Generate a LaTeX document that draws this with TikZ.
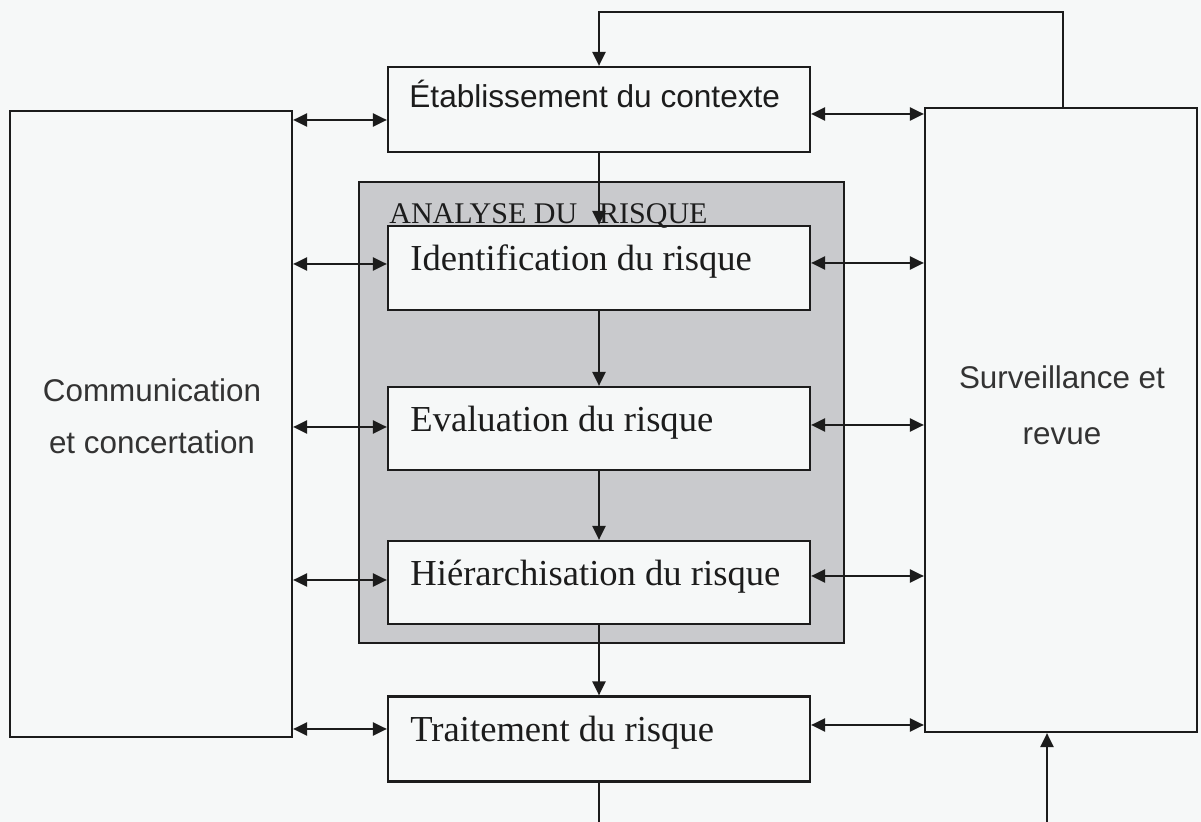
\documentclass[tikz,border=0pt]{standalone}
\usepackage{fontspec}
\setmainfont{Liberation Serif}
\newfontfamily\arialf{Liberation Sans}
\usetikzlibrary{arrows.meta,calc}
\definecolor{bgc}{RGB}{246,248,248}
\definecolor{greyfill}{RGB}{201,202,205}
\definecolor{ink}{RGB}{28,28,28}
\begin{document}
\begin{tikzpicture}[x=0.5pt,y=-0.5pt,
  box/.style={draw=ink,line width=1.1pt,fill=bgc,inner sep=0pt},
  arr/.style={draw=ink,line width=1.1pt,-{Triangle[length=7pt,width=6.5pt]}},
  darr/.style={draw=ink,line width=1.1pt,{Triangle[length=7pt,width=6.5pt]}-{Triangle[length=7pt,width=6.5pt]}},
  sertxt/.style={font=\fontsize{18.3}{22}\selectfont,anchor=base west,inner sep=0pt,text=ink},
  sanstxt/.style={font=\arialf\fontsize{15.8}{19}\selectfont,anchor=base west,inner sep=0pt,text=ink},
  sidetxt/.style={font=\arialf\fontsize{15.7}{19}\selectfont,anchor=base,inner sep=0pt,text=ink!90}
]
\useasboundingbox (0,0) rectangle (1201,822);
\fill[bgc] (0,0) rectangle (1201,822);

% side boxes
\node[box,minimum width=141pt,minimum height=313pt] (comm) at (151,424) {};
\node[box,minimum width=136pt,minimum height=312pt] (surv) at (1061,420) {};

% grey analysis box
\node[draw=ink,line width=1.1pt,fill=greyfill,inner sep=0pt,minimum width=242.5pt,minimum height=230.5pt] (analyse) at (601.5,412.5) {};

% process boxes
\node[box,minimum width=211pt,minimum height=42.5pt] (etab) at (599,109.5) {};
\node[box,minimum width=211pt,minimum height=42pt] (ident) at (599,268) {};
\node[box,minimum width=211pt,minimum height=41.5pt] (eval) at (599,428.5) {};
\node[box,minimum width=211pt,minimum height=41.5pt] (hier) at (599,582.5) {};
\node[box,minimum width=211pt,minimum height=42.5pt] (trait) at (599,739) {};

% texts
\node[sanstxt] (tetab) at (409,108) {Établissement du contexte};
\node[font=\fontsize{15}{18}\selectfont,anchor=base west,inner sep=0pt,text=ink] (tana) at (389,224) {ANALYSE DU\hskip 11pt RISQUE};
\node[sertxt] (tident) at (410,271) {Identification du risque};
\node[sertxt] (teval) at (410,432) {Evaluation du risque};
\node[sertxt] (thier) at (410,586) {Hiérarchisation du risque};
\node[sertxt] (ttrait) at (410,742) {Traitement du risque};
\node[sidetxt] (tcomm1) at (152,402) {Communication};
\node[sidetxt] (tcomm2) at (152,454) {et concertation};
\node[sidetxt] (tsurv1) at (1062,389) {Surveillance et};
\node[sidetxt] (tsurv2) at (1062,445) {revue};

% vertical flow
\draw[arr] (etab.south) -- (ident.north);
\draw[arr] (ident.south) -- (eval.north);
\draw[arr] (eval.south) -- (hier.north);
\draw[draw=ink,line width=1.1pt] (hier.south) -- (analyse.south -| hier.south);
\draw[arr] (analyse.south -| hier.south) -- (trait.north);

% feedback loop top
\coordinate (t1) at (1063,12);
\coordinate (t2) at (599,12);
\draw[arr] (surv.north -| t1) -- (t1) -- (t2) -- (etab.north);

% bottom loop (continues beyond the page)
\coordinate (b1) at (599,822);
\coordinate (b2) at (1047,822);
\draw[draw=ink,line width=1.1pt] (trait.south) -- (b1);
\draw[arr] (b2) -- (surv.south -| b2);

% left double arrows
\coordinate (l1) at (0,120);
\coordinate (l2) at (0,264);
\coordinate (l3) at (0,427);
\coordinate (l4) at (0,580);
\coordinate (l5) at (0,729);
\draw[darr] (comm.east |- l1) -- (etab.west |- l1);
\draw[darr] (comm.east |- l2) -- (ident.west |- l2);
\draw[darr] (comm.east |- l3) -- (eval.west |- l3);
\draw[darr] (comm.east |- l4) -- (hier.west |- l4);
\draw[darr] (comm.east |- l5) -- (trait.west |- l5);
% right double arrows
\coordinate (r1) at (0,114);
\coordinate (r2) at (0,263);
\coordinate (r3) at (0,425);
\coordinate (r4) at (0,576);
\coordinate (r5) at (0,725);
\draw[darr] (etab.east |- r1) -- (surv.west |- r1);
\draw[darr] (ident.east |- r2) -- (surv.west |- r2);
\draw[darr] (eval.east |- r3) -- (surv.west |- r3);
\draw[darr] (hier.east |- r4) -- (surv.west |- r4);
\draw[darr] (trait.east |- r5) -- (surv.west |- r5);
\end{tikzpicture}
\end{document}
